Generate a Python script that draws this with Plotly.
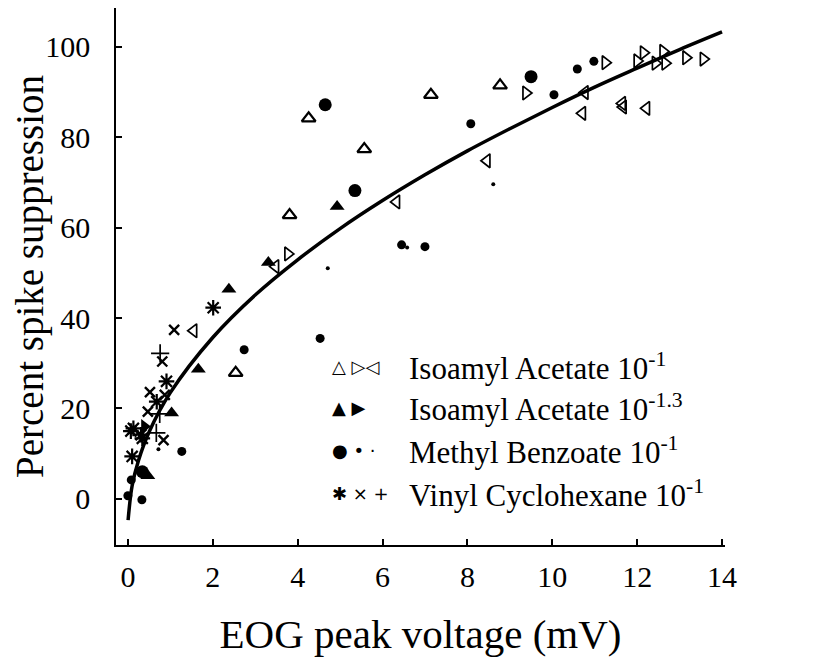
import plotly.graph_objects as go

# ---- data ----
ia1_up_x = [4.26, 5.57, 3.81, 2.54, 7.14, 8.77]
ia1_up_y = [84.2, 77.4, 62.8, 27.9, 89.4, 91.5]
ia1_right_x = [3.77, 9.38, 11.25, 12.0, 12.15, 12.43, 12.61, 12.66, 13.15, 13.56]
ia1_right_y = [54.2, 89.8, 96.5, 96.9, 98.7, 96.4, 99.0, 96.4, 97.6, 97.3]
ia1_left_x = [1.55, 3.48, 6.33, 8.46, 10.77, 10.71, 11.65, 11.67, 12.22]
ia1_left_y = [37.2, 51.4, 65.7, 74.8, 89.9, 85.3, 87.5, 86.7, 86.4]

ia13_up_x = [4.93, 3.31, 2.38, 1.66, 1.03, 0.47]
ia13_up_y = [64.7, 52.3, 46.4, 28.7, 19.0, 5.1]
ia13_right_x = [0.39]
ia13_right_y = [16.0]

mb_large_x = [4.65, 9.50, 5.35, 0.34]
mb_large_y = [87.2, 93.4, 68.2, 6.0]
mb_med_x = [8.08, 10.04, 10.59, 10.98, 6.45, 7.0, 4.53, 2.74, 1.27, 0.08, 0.0, 0.33]
mb_med_y = [83.0, 89.4, 95.1, 96.8, 56.2, 55.8, 35.5, 33.0, 10.5, 4.2, 0.7, -0.2]
mb_small_x = [4.71, 8.61, 6.58, 0.72]
mb_small_y = [51.0, 69.6, 55.6, 11.0]

vc_star_x = [2.01, 0.91, 0.68, 0.13, 0.31, 0.10, 0.07, 0.34]
vc_star_y = [42.3, 26.0, 21.5, 15.6, 14.2, 9.4, 15.0, 13.4]
vc_x_x = [1.09, 0.81, 0.52, 0.87, 0.47, 0.84]
vc_x_y = [37.4, 30.4, 23.6, 23.0, 19.3, 13.0]
vc_plus_x = [0.76, 0.75, 0.67]
vc_plus_y = [32.2, 18.8, 14.6]

curve_x = [0.005, 0.1, 0.25, 0.5, 1, 2, 3, 4, 5, 6, 7, 8, 9, 10, 11, 12, 13, 14]
curve_y = [-4.7, 2.9, 8.5, 14.8, 23.5, 35.7, 45.1, 52.9, 59.8, 66.0, 71.7, 77.0, 81.9, 86.6, 91.1, 95.3, 99.4, 103.3]

x_ticks = [0, 2, 4, 6, 8, 10, 12, 14]
y_ticks = [0, 20, 40, 60, 80, 100]

legend_rows = [
    ("\u25b3 \u25b7\u25c1", "Isoamyl Acetate 10<sup>-1</sup>"),
    ("\u25b2 \u25b6", "Isoamyl Acetate 10<sup>-1.3</sup>"),
    ("\u25cf \u2022 \u00b7", "Methyl Benzoate 10<sup>-1</sup>"),
    ("\u2731 \u00d7 +", "Vinyl Cyclohexane 10<sup>-1</sup>"),
]

SERIF = "Liberation Serif, Times New Roman, serif"

fig = go.Figure()

fig.add_trace(go.Scatter(x=curve_x, y=curve_y, mode="lines",
                         line=dict(color="black", width=3.5, shape="spline"),
                         hoverinfo="skip"))

def pts(x, y, symbol, size, lw=0, color="black"):
    fig.add_trace(go.Scatter(
        x=x, y=y, mode="markers",
        marker=dict(symbol=symbol, size=size, color=color,
                    line=dict(color="black", width=lw))))

pts(ia1_up_x, ia1_up_y, "triangle-up-open", 12, 2.2)
pts(ia1_right_x, ia1_right_y, "triangle-right-open", 12, 1.7)
pts(ia1_left_x, ia1_left_y, "triangle-left-open", 12, 1.7)
pts(ia13_up_x, ia13_up_y, "triangle-up", 13)
pts(ia13_right_x, ia13_right_y, "triangle-right", 13)
pts(mb_large_x, mb_large_y, "circle", 13)
pts(mb_med_x, mb_med_y, "circle", 9)
pts(mb_small_x, mb_small_y, "circle", 4)
pts(vc_star_x, vc_star_y, "asterisk-open", 13, 2.2)
pts(vc_x_x, vc_x_y, "x-thin-open", 10, 2.4)
pts(vc_plus_x, vc_plus_y, "cross-thin-open", 13, 1.7)

# legend as text
row_y = [29.2, 20.2, 10.8, 1.3]
for (sym, label), yy in zip(legend_rows, row_y):
    fig.add_annotation(x=4.76, y=yy, xref="x", yref="y", text=sym,
                       showarrow=False, xanchor="left", yanchor="middle",
                       font=dict(family="DejaVu Sans", size=18, color="black"))
    fig.add_annotation(x=6.58, y=yy, xref="x", yref="y", text=label,
                       showarrow=False, xanchor="left", yanchor="middle",
                       font=dict(family=SERIF, size=31, color="black"))

fig.update_layout(
    width=813, height=671,
    margin=dict(l=105, r=96, t=0, b=134),
    paper_bgcolor="white", plot_bgcolor="white",
    showlegend=False,
    font=dict(family=SERIF, color="black"),
)
fig.update_xaxes(range=[-0.28, 14.07], tickvals=x_ticks, ticks="inside",
                 ticklen=6, tickwidth=1.5, tickcolor="black",
                 showline=True, linecolor="black", linewidth=1.5,
                 showgrid=False, zeroline=False, ticklabelstandoff=4,
                 tickfont=dict(family=SERIF, size=30, color="black"),
                 title=dict(text="EOG peak voltage (mV)", standoff=28,
                            font=dict(family=SERIF, size=41, color="black")))
fig.update_yaxes(range=[-10.2, 108.6], tickvals=y_ticks, ticks="inside",
                 ticklen=6, tickwidth=1.5, tickcolor="black",
                 showline=True, linecolor="black", linewidth=1.5,
                 showgrid=False, zeroline=False, ticklabelstandoff=18,
                 tickfont=dict(family=SERIF, size=30, color="black"),
                 title=dict(text="Percent spike suppression", standoff=10,
                            font=dict(family=SERIF, size=39, color="black")))

fig.write_html("out.html")
